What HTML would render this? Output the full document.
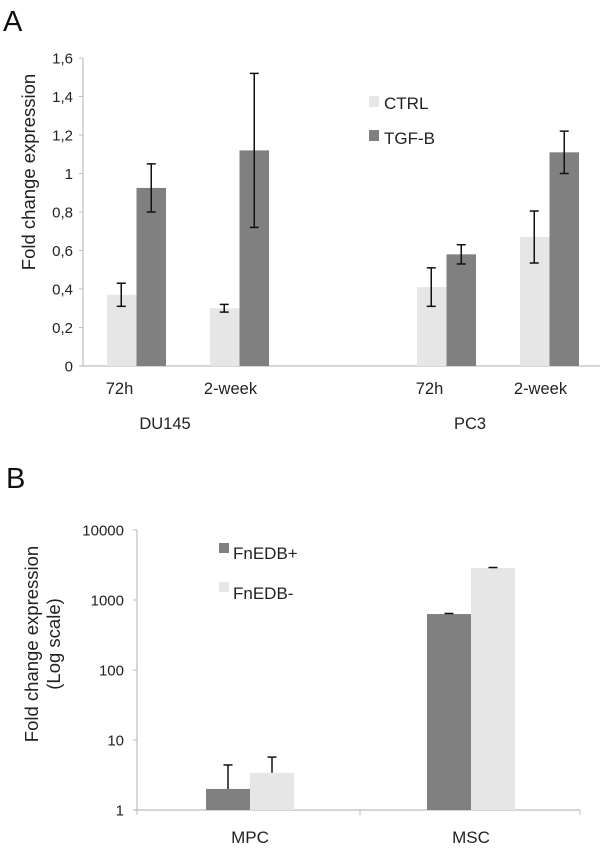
<!DOCTYPE html>
<html><head><meta charset="utf-8"><style>
body{margin:0;background:#fff}
svg{display:block;font-family:"Liberation Sans",Arial,sans-serif}
</style></head><body>
<svg id="s" width="600" height="851" viewBox="0 0 600 851">
<text x="3" y="31" font-size="29" fill="#111">A</text>
<text x="6" y="488" font-size="29" fill="#111">B</text>
<g id="ga"></g>
<g id="gb"></g>
</svg>
<script>
const ns='http://www.w3.org/2000/svg';
// Chart A data
const aGroups=['72h','2-week','72h','2-week'];
const aCells=['DU145','PC3'];
const aCtrl=[0.37,0.30,0.41,0.67];
const aCtrlErr=[0.06,0.02,0.10,0.135];
const aTgf=[0.925,1.12,0.58,1.11];
const aTgfErr=[0.125,0.40,0.05,0.11];
const aTicks=['0','0,2','0,4','0,6','0,8','1','1,2','1,4','1,6'];
// Chart B data
const bCats=['MPC','MSC'];
const bPlus=[2,630];
const bPlusErr=[2.4,12];
const bMinus=[3.4,2870];
const bMinusErr=[2.3,40];
const bTicks=['1','10','100','1000','10000'];

function mk(p,t,a,txt){const e=document.createElementNS(ns,t);for(const k in a)e.setAttribute(k,a[k]);if(txt!=null)e.textContent=txt;p.appendChild(e);return e;}
const LIGHT='#e6e6e6',DARK='#808080',AX='#bdbdbd';

// ---- Chart A
const ga=document.getElementById('ga');
const ay=v=>366-v*192.5;
const aBarX=[107,210,417,520], bw=29.5;
mk(ga,'line',{x1:83,y1:58,x2:83,y2:366,stroke:AX,'stroke-width':1.2});
mk(ga,'line',{x1:80,y1:366,x2:600,y2:366,stroke:AX,'stroke-width':1.2});
aTicks.forEach((t,i)=>{const y=ay(i*0.2);
 mk(ga,'line',{x1:79,y1:y,x2:83,y2:y,stroke:AX});
 const e=mk(ga,'text',{x:73,y:y+5.5,'font-size':15,'text-anchor':'end',fill:'#222'},t);
 
 });
function errbar(g,x,v,e,yf,down){const t=yf(v+e),b=down?yf(v-e):yf(v);
 mk(g,'line',{x1:x,y1:t,x2:x,y2:b,stroke:'#111','stroke-width':1.5});
 mk(g,'line',{x1:x-4.5,y1:t,x2:x+4.5,y2:t,stroke:'#111','stroke-width':1.5});
 if(down)mk(g,'line',{x1:x-4.5,y1:b,x2:x+4.5,y2:b,stroke:'#111','stroke-width':1.5});}
aGroups.forEach((g,i)=>{const x=aBarX[i];
 const r1=mk(ga,'rect',{x:x,y:ay(aCtrl[i]),width:bw,height:366-ay(aCtrl[i]),fill:LIGHT});
 
 
 const r2=mk(ga,'rect',{x:x+bw,y:ay(aTgf[i]),width:bw,height:366-ay(aTgf[i]),fill:DARK});
 
 
 errbar(ga,x+bw/2-0.5,aCtrl[i],aCtrlErr[i],ay,true);
 errbar(ga,x+bw*1.5,aTgf[i],aTgfErr[i],ay,true);
 const l=mk(ga,'text',{x:x+bw-17+(i%2?8:0),y:394,'font-size':16.5,'text-anchor':'middle',fill:'#222'},g);
 
 });
aCells.forEach((c,i)=>{const l=mk(ga,'text',{x:i?470:165,y:429,'font-size':16.5,'text-anchor':'middle',fill:'#222'},c);
 
 });
const at=mk(ga,'text',{x:0,y:0,'font-size':18.5,'text-anchor':'middle',fill:'#222',transform:'translate(35,172) rotate(-90)'},'Fold change expression');


mk(ga,'rect',{x:369,y:96,width:10,height:11,fill:LIGHT});
mk(ga,'text',{x:384,y:109,'font-size':17,fill:'#222'},'CTRL');
mk(ga,'rect',{x:369,y:130,width:10,height:11,fill:DARK});
mk(ga,'text',{x:384,y:144,'font-size':17,fill:'#222'},'TGF-B');

// ---- Chart B
const gb=document.getElementById('gb');
const B0=810, DEC=70;
const by=v=>B0-Math.log10(v)*DEC;
mk(gb,'line',{x1:137,y1:by(10000),x2:137,y2:B0,stroke:AX,'stroke-width':1.2});
mk(gb,'line',{x1:134,y1:B0,x2:580,y2:B0,stroke:AX,'stroke-width':1.2});
[137,360,580].forEach(x=>mk(gb,'line',{x1:x,y1:B0,x2:x,y2:B0+5,stroke:AX}));
bTicks.forEach((t,i)=>{const y=by(Math.pow(10,i));
 mk(gb,'line',{x1:133,y1:y,x2:137,y2:y,stroke:AX});
 const e=mk(gb,'text',{x:124,y:y+5.5,'font-size':15,'text-anchor':'end',fill:'#222'},t);
 
 });
const bX=[206,427], bbw=44;
bCats.forEach((c,i)=>{const x=bX[i];
 const r1=mk(gb,'rect',{x:x,y:by(bPlus[i]),width:bbw,height:B0-by(bPlus[i]),fill:DARK});
 
 
 const r2=mk(gb,'rect',{x:x+bbw,y:by(bMinus[i]),width:bbw,height:B0-by(bMinus[i]),fill:LIGHT});
 
 
 errbar(gb,x+bbw/2,bPlus[i],bPlusErr[i],by,false);
 errbar(gb,x+bbw*1.5,bMinus[i],bMinusErr[i],by,false);
 const l=mk(gb,'text',{x:x+bbw,y:843,'font-size':17,'text-anchor':'middle',fill:'#222'},c);
 
 });
const bt=mk(gb,'text',{x:0,y:0,'font-size':18.5,'text-anchor':'middle',fill:'#222',transform:'translate(38,644) rotate(-90)'},'Fold change expression');


const bt2=mk(gb,'text',{x:0,y:0,'font-size':18.5,'text-anchor':'middle',fill:'#222',transform:'translate(60,644) rotate(-90)'},'(Log scale)');


mk(gb,'rect',{x:219,y:543,width:10,height:10,fill:DARK});
mk(gb,'text',{x:233,y:559,'font-size':17,fill:'#222'},'FnEDB+');
mk(gb,'rect',{x:219,y:582,width:10,height:10,fill:LIGHT});
mk(gb,'text',{x:233,y:599,'font-size':17,fill:'#222'},'FnEDB-');
</script>
</body></html>
